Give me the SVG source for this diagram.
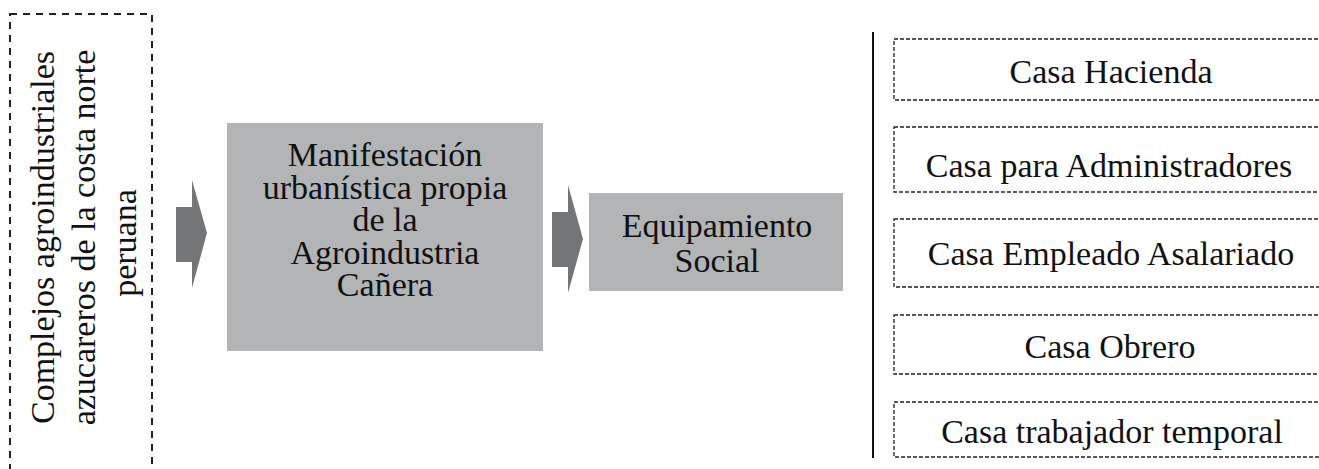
<svg xmlns="http://www.w3.org/2000/svg" width="1319" height="469" viewBox="0 0 1319 469">
<style>
text{font-family:"Liberation Serif","Times New Roman",serif;font-size:34px;fill:#111;text-anchor:middle}
.dash{fill:none;stroke:#222;stroke-width:1.3;stroke-dasharray:4 2}
.dashL{fill:none;stroke:#222;stroke-width:2;stroke-dasharray:7 6}
.box{fill:#b2b4b6}
.arrow{fill:#737577}
</style>
<rect width="1319" height="469" fill="#fff"/>
<g id="n-complejos">
<rect class="dashL" x="10" y="14" width="142" height="470"/>
<text transform="translate(54,237.5) rotate(-90)">Complejos agroindustriales</text>
<text transform="translate(95,237.5) rotate(-90)">azucareros de la costa norte</text>
<text transform="translate(136,243) rotate(-90)">peruana</text>
</g>
<g id="n-manifestacion">
<rect class="box" x="227" y="123" width="316" height="228"/>
<text x="385" y="166">Manifestación</text>
<text x="385" y="198.5">urbanística propia</text>
<text x="385" y="231">de la</text>
<text x="385" y="263.5">Agroindustria</text>
<text x="385" y="296">Cañera</text>
</g>
<g id="n-equipamiento">
<rect class="box" x="589" y="193" width="254" height="98"/>
<text x="717" y="237">Equipamiento</text>
<text x="717" y="272">Social</text>
</g>
<g id="connectors">
<polygon class="arrow" points="176,207 192,207 192,180 207,233 192,288 192,262 176,262"/>
<polygon class="arrow" points="552,212 568,212 568,185 583,239 568,293 568,267 552,267"/>
<line x1="873" y1="32" x2="873" y2="458" stroke="#111" stroke-width="2"/>
</g>
<g id="n-hacienda">
<rect class="dash" x="894" y="39" width="440" height="61"/>
<text x="1111" y="83">Casa Hacienda</text>
</g>
<g id="n-administradores">
<rect class="dash" x="894" y="127" width="440" height="65"/>
<text x="1109" y="177">Casa para Administradores</text>
</g>
<g id="n-empleado">
<rect class="dash" x="894" y="219" width="440" height="68"/>
<text x="1111" y="265">Casa Empleado Asalariado</text>
</g>
<g id="n-obrero">
<rect class="dash" x="894" y="315" width="440" height="59"/>
<text x="1110" y="358">Casa Obrero</text>
</g>
<g id="n-temporal">
<rect class="dash" x="894" y="402" width="440" height="55"/>
<text x="1112" y="443">Casa trabajador temporal</text>
</g>
</svg>
